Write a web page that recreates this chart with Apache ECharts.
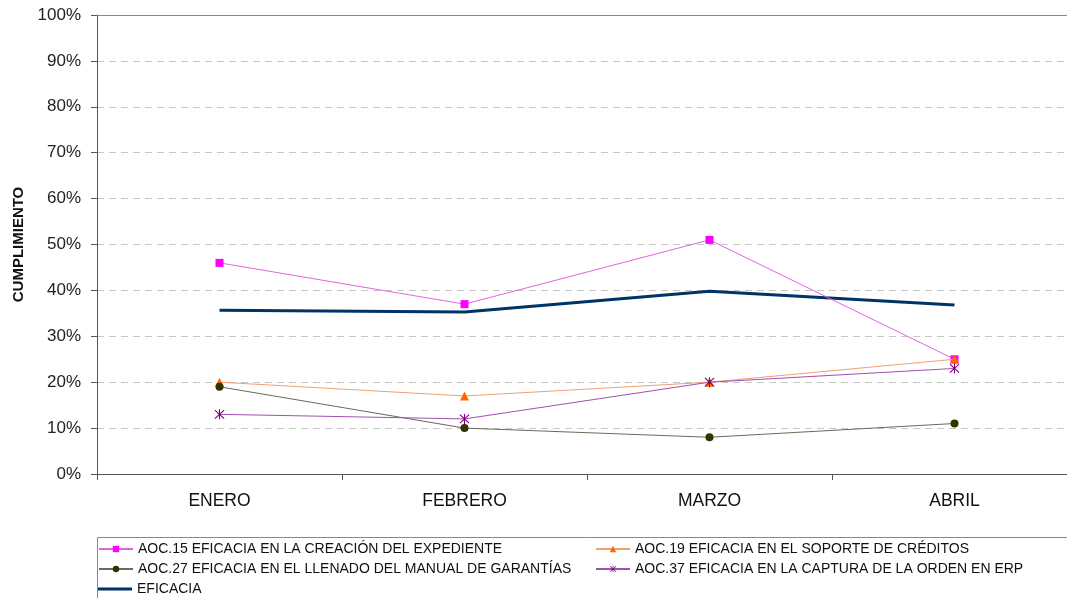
<!DOCTYPE html>
<html>
<head>
<meta charset="utf-8">
<script src="https://cdn.jsdelivr.net/npm/echarts@6/dist/echarts.min.js"></script>
<style>
html,body{margin:0;padding:0;background:#fff;overflow:hidden;}
#c{width:1077px;height:598px;}
</style>
</head>
<body>
<div id="c"></div>
<script>
const months = ['ENERO', 'FEBRERO', 'MARZO', 'ABRIL'];
const yTicks = [0, 10, 20, 30, 40, 50, 60, 70, 80, 90, 100];
const aoc15 = [46, 37, 51, 25];
const aoc19 = [20, 17, 20, 25];
const aoc27 = [19, 10, 8, 11];
const aoc37 = [13, 12, 20, 23];
const eficacia = [35.7, 35.3, 39.8, 36.8];

const names = [
  'AOC.15 EFICACIA EN LA CREACIÓN DEL EXPEDIENTE',
  'AOC.19 EFICACIA EN EL SOPORTE DE CRÉDITOS',
  'AOC.27 EFICACIA EN EL LLENADO DEL MANUAL DE GARANTÍAS',
  'AOC.37 EFICACIA EN LA CAPTURA DE LA ORDEN EN ERP',
  'EFICACIA'
];

const starPath = 'path://M4.5,0L5.5,0L5.5,10L4.5,10Z M0.4,1.1L1.1,0.4L9.6,8.9L8.9,9.6Z M8.9,0.4L9.6,1.1L1.1,9.6L0.4,8.9Z';

const font = 'Liberation Sans, Arial, sans-serif';
const chart = echarts.init(document.getElementById('c'), null, {renderer: 'canvas'});
const legendText = {fontFamily: font, fontSize: 14, color: '#111'};

function leg(name, left, top, icon, h) {
  const item = icon ? {name: name, icon: icon} : name;
  return {orient: 'horizontal', left: left, top: top, padding: 0, itemGap: 0,
    itemWidth: 34, itemHeight: h || 8, data: [item], textStyle: legendText,
    selectedMode: false};
}

chart.setOption({
  animation: false,
  backgroundColor: '#fff',
  grid: {left: 97, top: 15, right: 0, bottom: 124, containLabel: false},
  xAxis: {
    type: 'category',
    data: months,
    boundaryGap: true,
    axisLine: {lineStyle: {color: '#555', width: 1}},
    axisTick: {show: true, length: 6, lineStyle: {color: '#555'}},
    axisLabel: {fontFamily: font, fontSize: 17.5, color: '#111', margin: 18}
  },
  yAxis: {
    type: 'value',
    min: 0, max: 100, interval: 10,
    name: 'CUMPLIMIENTO',
    nameLocation: 'middle',
    nameGap: 70,
    nameRotate: 90,
    nameTextStyle: {fontFamily: font, fontSize: 15, fontWeight: 'bold', color: '#111'},
    axisLine: {show: true, lineStyle: {color: '#555', width: 1}},
    axisTick: {show: true, length: 6, lineStyle: {color: '#555'}},
    axisLabel: {fontFamily: font, fontSize: 17, color: '#222', margin: 16,
      formatter: v => yTicks.includes(v) ? v + '%' : ''},
    splitLine: {show: true, lineStyle: {color: '#c8c8c8', type: [7, 5], width: 1}}
  },
  legend: [
    leg(names[0], 98, 542),
    leg(names[2], 98, 562),
    leg(names[4], 98, 582, 'path://M0,0L34,0L34,3L0,3Z', 3),
    leg(names[1], 595, 542),
    leg(names[3], 595, 562)
  ],
  graphic: [
    {type: 'rect', shape: {x: 97.5, y: 537.5, width: 990, height: 70},
      style: {fill: 'none', stroke: '#888', lineWidth: 1}, z: 0}
  ],
  series: [
    {name: names[0], type: 'line', data: aoc15, symbol: 'rect', symbolSize: 8,
      lineStyle: {color: '#e066e0', width: 1}, itemStyle: {color: '#ff00ff'}, z: 3},
    {name: names[1], type: 'line', data: aoc19, symbol: 'triangle', symbolSize: 9,
      lineStyle: {color: '#f0a070', width: 1}, itemStyle: {color: '#ff6600'}, z: 4},
    {name: names[2], type: 'line', data: aoc27, symbol: 'circle', symbolSize: 8,
      lineStyle: {color: '#6a6a5a', width: 1}, itemStyle: {color: '#333300'}, z: 5},
    {name: names[3], type: 'line', data: aoc37, symbol: starPath, symbolSize: 10,
      lineStyle: {color: '#a050b0', width: 1}, itemStyle: {color: '#800080'}, z: 6},
    {name: names[4], type: 'line', data: eficacia, symbol: 'none', showSymbol: false,
      lineStyle: {color: '#003366', width: 3}, itemStyle: {color: '#003366'}, z: 2,
      markLine: {silent: true, symbol: 'none', label: {show: false},
        lineStyle: {color: '#888', type: 'solid', width: 1},
        data: [{yAxis: 100}]}}
  ]
});
</script>
</body>
</html>
